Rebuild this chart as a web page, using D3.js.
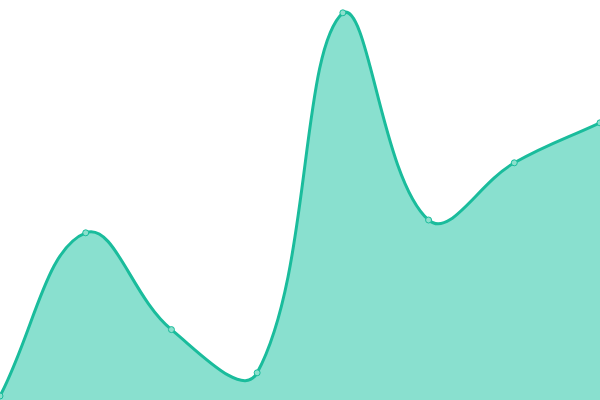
<!DOCTYPE html>
<html lang="en">
<head>
<meta charset="utf-8">
<title>Area</title>
<script src="https://cdn.jsdelivr.net/npm/d3@7" charset="utf-8"></script>
<style>
  body { margin: 0; background: #fff; }
</style>
</head>
<body>
<script type="text/javascript">

    var width = 600;
    var height = 400;

    // data (y axis 0..100, hidden)
    var labels = ["1", "2", "3", "4", "5", "6", "7", "8"];
    var values = [1, 41.8, 17.6, 6.8, 96.8, 45, 59.3, 69.3];

    var x = d3.scalePoint()
    .domain(labels)
    .range([0, width]);

    var y = d3.scaleLinear()
    .domain([0, 100])
    .range([height, 0]);

    // spline like the one Chart.js draws with tension 0.4
    function splineCurve(context) {
        var tension = 0.4;
        return {
            areaStart: function () { this._line = 0; },
            areaEnd: function () { this._line = NaN; },
            lineStart: function () { this._pts = []; },
            point: function (px, py) { this._pts.push([+px, +py]); },
            lineEnd: function () {
                var p = this._pts, n = p.length, cps = [];
                for (var i = 0; i < n; i++) {
                    var prev = p[Math.max(i - 1, 0)], cur = p[i], next = p[Math.min(i + 1, n - 1)];
                    var d01 = Math.hypot(cur[0] - prev[0], cur[1] - prev[1]);
                    var d12 = Math.hypot(next[0] - cur[0], next[1] - cur[1]);
                    var s01 = d01 / (d01 + d12) || 0, s12 = d12 / (d01 + d12) || 0;
                    var fa = tension * s01, fb = tension * s12;
                    var cpPrev = [cur[0] - fa * (next[0] - prev[0]), cur[1] - fa * (next[1] - prev[1])];
                    var cpNext = [cur[0] + fb * (next[0] - prev[0]), cur[1] + fb * (next[1] - prev[1])];
                    [cpPrev, cpNext].forEach(function (c) {
                        c[0] = Math.max(0, Math.min(width, c[0]));
                        c[1] = Math.max(0, Math.min(height, c[1]));
                    });
                    cps.push([cpPrev, cpNext]);
                }
                if (n) {
                    if (this._line) context.lineTo(p[0][0], p[0][1]);
                    else context.moveTo(p[0][0], p[0][1]);
                }
                for (var j = 1; j < n; j++) {
                    var a = cps[j - 1][1], b = cps[j][0];
                    context.bezierCurveTo(a[0], a[1], b[0], b[1], p[j][0], p[j][1]);
                }
                if (this._line) context.closePath();
                this._line = 1 - this._line;
            }
        };
    }

    var data = labels.map(function (l, i) { return { label: l, value: values[i] }; });

    var svg = d3.select("body").append("svg")
    .attr("width", width)
    .attr("height", height);

    var area = d3.area()
    .x(function (d) { return x(d.label); })
    .y0(y(0))
    .y1(function (d) { return y(d.value); })
    .curve(splineCurve);

    var line = d3.line()
    .x(function (d) { return x(d.label); })
    .y(function (d) { return y(d.value); })
    .curve(splineCurve);

    svg.append("path")
    .datum(data)
    .attr("d", area)
    .attr("fill", "#89e0cf");

    svg.append("path")
    .datum(data)
    .attr("d", line)
    .attr("fill", "none")
    .attr("stroke", "#1abc9c")
    .attr("stroke-width", 3);

    svg.selectAll("circle")
    .data(data)
    .enter()
    .append("circle")
    .attr("cx", function (d) { return x(d.label); })
    .attr("cy", function (d) { return y(d.value); })
    .attr("r", 3)
    .attr("fill", "#8ce0cd")
    .attr("stroke", "#1abc9c")
    .attr("stroke-width", 1);

</script>
</body></html>
